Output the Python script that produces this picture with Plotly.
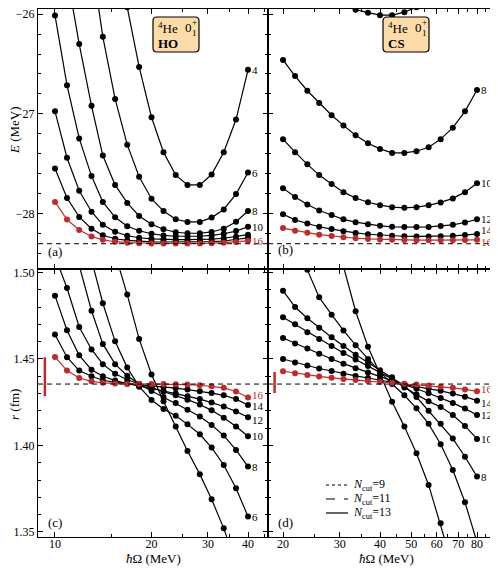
import math
import plotly.graph_objects as go
from plotly.subplots import make_subplots

# the page body adds an 8px margin, so the figure is drawn 8px in from the window corner
W, H = 490, 560
OFF = 8
FONT = "Liberation Serif"
RED = "#BE2B2B"

# hbar*Omega grids (MeV)
hw_ho = [10.0, 10.9, 11.9, 13.0, 14.1, 15.4, 16.8, 18.3, 20.0, 21.8, 23.8, 25.9, 28.3, 30.8, 33.6, 36.7, 40.0]
hw_cs = [20.0, 21.8, 23.8, 25.9, 28.3, 30.8, 33.6, 36.7, 40.0, 43.6, 47.6, 51.9, 56.6, 61.7, 67.3, 73.4, 80.0]

# (a) energies, HO basis
e_ho_4 = [None, None, None, None, None, -24.9, -25.93, -26.53, -27.035, -27.386, -27.616, -27.715, -27.715, -27.61, -27.386, -27.058, -26.559]
e_ho_6 = [None, None, None, -25.45, -26.227, -26.851, -27.31, -27.632, -27.853, -27.977, -28.059, -28.086, -28.086, -28.043, -27.961, -27.807, -27.59]
e_ho_8 = [None, -25.6, -26.30, -26.92, -27.42, -27.715, -27.895, -28.026, -28.109, -28.16, -28.19, -28.2, -28.2, -28.187, -28.155, -28.085, -27.977]
e_ho_10 = [-26.013, -26.713, -27.248, -27.626, -27.885, -28.04, -28.13, -28.175, -28.205, -28.222, -28.23, -28.232, -28.23, -28.222, -28.205, -28.178, -28.135]
e_ho_12 = [-26.976, -27.442, -27.774, -27.984, -28.115, -28.185, -28.225, -28.245, -28.256, -28.262, -28.265, -28.265, -28.263, -28.258, -28.25, -28.235, -28.214]
e_ho_14 = [-27.55, -27.846, -28.036, -28.155, -28.22, -28.255, -28.272, -28.281, -28.286, -28.288, -28.289, -28.289, -28.288, -28.285, -28.278, -28.266, -28.247]
e_ho_16 = [-27.885, -28.063, -28.168, -28.233, -28.266, -28.285, -28.295, -28.3, -28.302, -28.303, -28.303, -28.303, -28.302, -28.3, -28.295, -28.287, -28.276]

# (b) energies, CS basis
e_cs_6 = [None, None, None, -25.65, -25.8, -25.905, -25.955, -25.985, -26.01, -26.01, -25.98, -25.93, -25.85, -25.74, -25.6, -25.4, -25.15]
e_cs_8 = [-26.46, -26.621, -26.769, -26.893, -27.015, -27.117, -27.215, -27.297, -27.353, -27.393, -27.393, -27.376, -27.337, -27.255, -27.14, -26.976, -26.762]
e_cs_10 = [-27.255, -27.386, -27.508, -27.616, -27.705, -27.787, -27.846, -27.889, -27.918, -27.938, -27.945, -27.938, -27.92, -27.89, -27.85, -27.787, -27.698]
e_cs_12 = [-27.747, -27.836, -27.912, -27.971, -28.017, -28.06, -28.089, -28.109, -28.125, -28.135, -28.138, -28.138, -28.136, -28.128, -28.115, -28.092, -28.06]
e_cs_14 = [-28.01, -28.066, -28.102, -28.135, -28.158, -28.181, -28.197, -28.21, -28.218, -28.225, -28.23, -28.232, -28.232, -28.23, -28.226, -28.218, -28.207]
e_cs_16 = [-28.148, -28.174, -28.194, -28.214, -28.227, -28.24, -28.25, -28.257, -28.262, -28.266, -28.268, -28.27, -28.27, -28.27, -28.27, -28.269, -28.266]

# (c) radii, HO basis
r_ho_4 = [None, None, None, None, None, 1.5108, 1.4872, 1.4616, 1.441, 1.4255, 1.411, 1.3968, 1.3833, 1.3689, 1.3521, 1.333, 1.312]
r_ho_6 = [None, None, None, 1.5073, 1.4822, 1.4602, 1.445, 1.434, 1.4263, 1.4211, 1.4172, 1.4122, 1.4065, 1.3988, 1.3887, 1.3753, 1.3589]
r_ho_8 = [None, None, 1.504, 1.4779, 1.4587, 1.447, 1.4403, 1.4355, 1.4315, 1.428, 1.4245, 1.4207, 1.4167, 1.4118, 1.4057, 1.3974, 1.3878]
r_ho_10 = [1.5094, 1.491, 1.4685, 1.4555, 1.447, 1.4415, 1.438, 1.4355, 1.4335, 1.4312, 1.429, 1.4265, 1.4237, 1.4203, 1.416, 1.411, 1.4053]
r_ho_12 = [1.4866, 1.4666, 1.4521, 1.4438, 1.44, 1.4375, 1.4358, 1.4345, 1.433, 1.4315, 1.43, 1.4285, 1.4268, 1.4248, 1.4225, 1.4197, 1.4163]
r_ho_14 = [1.4641, 1.451, 1.4433, 1.44, 1.4377, 1.4365, 1.4358, 1.4352, 1.4345, 1.4338, 1.4331, 1.4323, 1.4314, 1.4303, 1.429, 1.4268, 1.4234]
r_ho_16 = [1.4512, 1.4433, 1.439, 1.4371, 1.4362, 1.4358, 1.4356, 1.4356, 1.4356, 1.4355, 1.4354, 1.4352, 1.4348, 1.4342, 1.4333, 1.4312, 1.4277]

# (d) radii, CS basis
r_cs_4 = [None, None, None, None, None, 1.5035, 1.4776, 1.4571, 1.4417, 1.4253, 1.4109, 1.3955, 1.3772, 1.355, 1.33, None, None]
r_cs_6 = [None, None, 1.5015, 1.4856, 1.4756, 1.4665, 1.458, 1.45, 1.4425, 1.4355, 1.429, 1.4215, 1.4125, 1.4007, 1.3858, 1.3672, 1.344]
r_cs_8 = [1.4895, 1.48, 1.4735, 1.468, 1.4625, 1.4575, 1.4525, 1.448, 1.4435, 1.4395, 1.4345, 1.428, 1.42, 1.4125, 1.404, 1.3935, 1.382]
r_cs_10 = [1.4741, 1.47, 1.4655, 1.4615, 1.4575, 1.4535, 1.4497, 1.446, 1.4422, 1.4385, 1.4335, 1.4295, 1.4255, 1.4222, 1.4176, 1.4113, 1.4038]
r_cs_12 = [1.4621, 1.459, 1.456, 1.453, 1.45, 1.4473, 1.4447, 1.4422, 1.4398, 1.4375, 1.4352, 1.4328, 1.4302, 1.4275, 1.4246, 1.4213, 1.4176]
r_cs_14 = [1.45, 1.448, 1.4462, 1.4445, 1.443, 1.4415, 1.4402, 1.439, 1.4378, 1.4366, 1.4354, 1.4342, 1.433, 1.4316, 1.43, 1.4282, 1.4259]
r_cs_16 = [1.4429, 1.4418, 1.4408, 1.4399, 1.4391, 1.4384, 1.4378, 1.4372, 1.4367, 1.4362, 1.4357, 1.4352, 1.4346, 1.434, 1.4333, 1.4324, 1.4313]

# extrapolated values and uncertainty bands
e_conv = -28.305
r_conv = 1.4355
band_ho_hw = 9.3
band_ho_r = [1.4284, 1.4510]
band_cs_hw = 18.83
band_cs_r = [1.4303, 1.4425]

panels = [
    (1, 1, hw_ho, {4: e_ho_4, 6: e_ho_6, 8: e_ho_8, 10: e_ho_10, 12: e_ho_12, 14: e_ho_14, 16: e_ho_16}, [4, 6, 8, 10, 16]),
    (1, 2, hw_cs, {6: e_cs_6, 8: e_cs_8, 10: e_cs_10, 12: e_cs_12, 14: e_cs_14, 16: e_cs_16}, [8, 10, 12, 14, 16]),
    (2, 1, hw_ho, {4: r_ho_4, 6: r_ho_6, 8: r_ho_8, 10: r_ho_10, 12: r_ho_12, 14: r_ho_14, 16: r_ho_16}, [6, 8, 10, 12, 14, 16]),
    (2, 2, hw_cs, {4: r_cs_4, 6: r_cs_6, 8: r_cs_8, 10: r_cs_10, 12: r_cs_12, 14: r_cs_14, 16: r_cs_16}, [8, 10, 12, 14, 16]),
]
# small vertical nudges (px) so neighbouring end labels do not collide
label_shift = {(1, 2, 14): 4, (1, 2, 16): -2, (2, 1, 16): 3, (2, 1, 14): -1, (2, 1, 12): -3,
               (2, 2, 16): 2, (2, 2, 14): -2}


# positions below are given in window pixels
def pxx(x):
    return (x - OFF) / W


def pxy(y):
    return 1 - (y - OFF) / H


fig = make_subplots(rows=2, cols=2, horizontal_spacing=0, vertical_spacing=0)

for row, col, hw, curves, labelled in panels:
    idx = (row - 1) * 2 + col
    xr = "x" if idx == 1 else f"x{idx}"
    yr = "y" if idx == 1 else f"y{idx}"
    for n, vals in curves.items():
        color = RED if n == 16 else "black"
        fig.add_trace(go.Scatter(
            x=hw, y=vals, mode="lines+markers",
            line=dict(color=color, width=1.2),
            marker=dict(color=color, size=6),
            showlegend=False, hoverinfo="skip"
        ), row=row, col=col)
        if n in labelled:
            fig.add_annotation(
                x=math.log10(hw[-1]), y=vals[-1], xref=xr, yref=yr,
                text=str(n), showarrow=False, xanchor="left", yanchor="middle", xshift=2,
                yshift=label_shift.get((row, col, n), 0),
                font=dict(family=FONT, size=11, color=color)
            )

# converged values (dashed)
for idx, val in [(1, e_conv), (2, e_conv), (3, r_conv), (4, r_conv)]:
    xr = "x domain" if idx == 1 else f"x{idx} domain"
    yr = "y" if idx == 1 else f"y{idx}"
    fig.add_shape(type="line", xref=xr, yref=yr, x0=0, x1=1, y0=val, y1=val,
                  line=dict(color="black", width=1, dash="5px,4px"))

# uncertainty bars
fig.add_trace(go.Scatter(x=[band_ho_hw, band_ho_hw], y=band_ho_r, mode="lines",
                         line=dict(color=RED, width=2.5), showlegend=False, hoverinfo="skip"), row=2, col=1)
fig.add_trace(go.Scatter(x=[band_cs_hw, band_cs_hw], y=band_cs_r, mode="lines",
                         line=dict(color=RED, width=2.5), showlegend=False, hoverinfo="skip"), row=2, col=2)

axis_common = dict(showline=True, linecolor="black", linewidth=1, mirror="allticks",
                   ticks="inside", ticklen=5, tickcolor="black", showgrid=False, zeroline=False,
                   automargin=False, ticklabeloverflow="allow",
                   tickfont=dict(family=FONT, size=12, color="black"))

x_left = [pxx(38), pxx(268)]
x_right = [pxx(268), pxx(496)]
y_top = [pxy(269), pxy(9)]
y_bot = [pxy(537), pxy(269)]

for idx in (1, 2, 3, 4):
    left = idx in (1, 3)
    top = idx in (1, 2)
    xa = dict(axis_common, type="log", domain=x_left if left else x_right,
              range=[0.947, 1.6644] if left else [1.2544, 1.962],
              tickvals=[10, 20, 30, 40] if left else [20, 30, 40, 50, 60, 70, 80],
              minor=dict(tickvals=[15, 25, 35, 45] if left else [25, 35, 45, 55, 65, 75, 85],
                         ticks="inside", ticklen=3, tickcolor="black"),
              showticklabels=not top, ticklabelstandoff=-4)
    if top:
        ya = dict(axis_common, domain=y_top, range=[-28.559, -25.948],
                  tickvals=[-28, -27, -26],
                  minor=dict(dtick=0.2, tick0=-26, ticks="inside", ticklen=3, tickcolor="black"))
    else:
        ya = dict(axis_common, domain=y_bot, range=[1.3471, 1.502],
                  tickvals=[1.35, 1.40, 1.45, 1.50], tickformat=".2f",
                  minor=dict(dtick=0.01, tick0=1.35, ticks="inside", ticklen=3, tickcolor="black"))
    ya["showticklabels"] = left
    xa["anchor"] = "y" if idx == 1 else f"y{idx}"
    ya["anchor"] = "x" if idx == 1 else f"x{idx}"
    fig.layout["xaxis" if idx == 1 else f"xaxis{idx}"].update(xa)
    fig.layout["yaxis" if idx == 1 else f"yaxis{idx}"].update(ya)

# nucleus/basis boxes
for dx, basis in [(0, "HO"), (230, "CS")]:
    L, R, T, B, rad = pxx(153 + dx), pxx(199 + dx), pxy(17), pxy(52), 4
    rx, ry = rad / W, rad / H
    path = (f"M {L+rx},{T} L {R-rx},{T} Q {R},{T} {R},{T-ry} L {R},{B+ry} Q {R},{B} {R-rx},{B} "
            f"L {L+rx},{B} Q {L},{B} {L},{B+ry} L {L},{T-ry} Q {L},{T} {L+rx},{T} Z")
    fig.add_shape(type="path", xref="paper", yref="paper", path=path,
                  fillcolor="#FCDCA8", line=dict(color="black", width=1.2), layer="above")
    for text, x, y, size in [("<sup>4</sup>He", 156, 28, 13), ("0", 183, 28, 13),
                             ("+", 190, 22, 9), ("1", 190, 33, 9), (f"<b>{basis}</b>", 156, 43, 13)]:
        fig.add_annotation(x=pxx(x + dx), y=pxy(y), xref="paper", yref="paper", text=text,
                           showarrow=False, xanchor="left", yanchor="middle",
                           font=dict(family=FONT, size=size, color="black"))

# panel letters and axis titles
for text, x, y in [("(a)", 46, 251), ("(b)", 276, 249), ("(c)", 46, 522), ("(d)", 276, 522)]:
    fig.add_annotation(x=pxx(x), y=pxy(y), xref="paper", yref="paper", text=text, showarrow=False,
                       xanchor="left", yanchor="middle", font=dict(family=FONT, size=13, color="black"))
for text, y in [("<i>E</i> (MeV)", 130), ("<i>r</i> (fm)", 405)]:
    fig.add_annotation(x=pxx(14), y=pxy(y), xref="paper", yref="paper", text=text, showarrow=False,
                       xanchor="center", yanchor="middle", textangle=-90,
                       font=dict(family=FONT, size=13, color="black"))
for x in (153, 386):
    fig.add_annotation(x=pxx(x), y=pxy(558), xref="paper", yref="paper", text="<i>ħ</i>Ω (MeV)",
                       showarrow=False, xanchor="center", yanchor="middle",
                       font=dict(family=FONT, size=13, color="black"))

# legend for N_cut line styles
for dash, label, y in [("dot", "9", 485), ("dash", "11", 499), ("solid", "13", 513)]:
    fig.add_shape(type="line", xref="paper", yref="paper", x0=pxx(326), x1=pxx(348), y0=pxy(y), y1=pxy(y),
                  line=dict(color="black", width=1.2, dash=dash))
    fig.add_annotation(x=pxx(351), y=pxy(y), xref="paper", yref="paper",
                       text=f"<i>N</i><sub>cut</sub>={label}", showarrow=False, xanchor="left",
                       yanchor="middle", font=dict(family=FONT, size=12, color="black"))

fig.update_layout(
    width=W, height=H,
    margin=dict(l=0, r=0, t=0, b=0, autoexpand=False),
    plot_bgcolor="white", paper_bgcolor="white",
    showlegend=False,
    font=dict(family=FONT, color="black"),
)

fig.write_html("out.html")
